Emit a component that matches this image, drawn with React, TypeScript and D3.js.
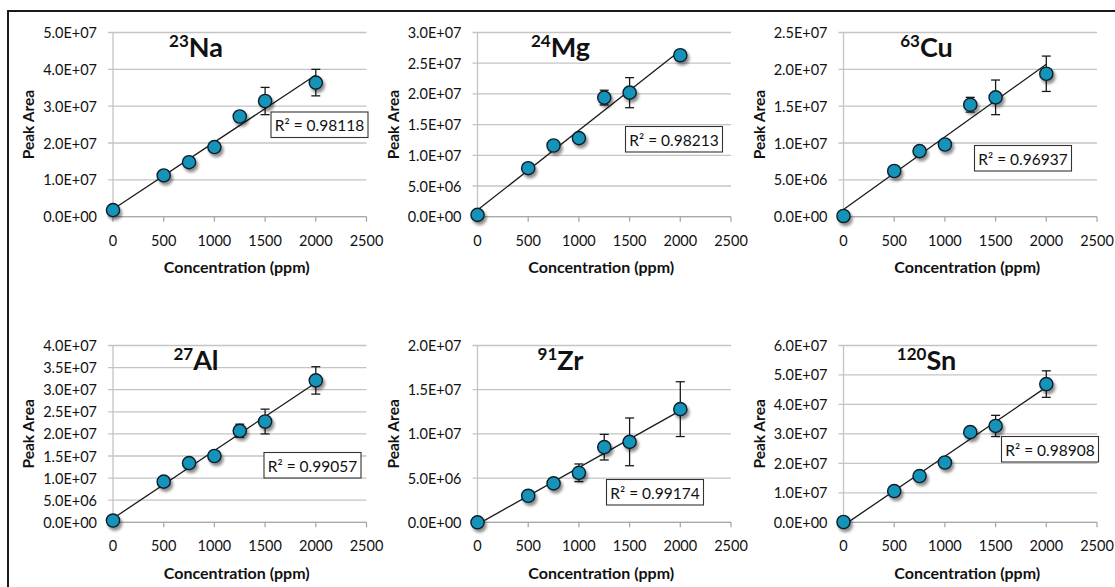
import * as d3 from 'd3';
import React, { useRef, useEffect } from 'react';

// concentrations (ppm) shared by every panel
const concentration = [0, 500, 750, 1000, 1250, 1500, 2000];
const xTicks = [0, 500, 1000, 1500, 2000, 2500];

// peak areas and their error bars
const na23 = [1.8e6, 1.12e7, 1.48e7, 1.89e7, 2.72e7, 3.14e7, 3.64e7];
const na23Err = [5e5, 6e5, 6e5, 8e5, 1.0e6, 3.7e6, 3.6e6];
const mg24 = [3e5, 7.9e6, 1.16e7, 1.28e7, 1.94e7, 2.02e7, 2.63e7];
const mg24Err = [2e5, 5e5, 6e5, 5e5, 1.2e6, 2.45e6, 8e5];
const cu63 = [1e5, 6.2e6, 8.9e6, 9.8e6, 1.52e7, 1.62e7, 1.94e7];
const cu63Err = [1e5, 4e5, 5e5, 5e5, 1.0e6, 2.35e6, 2.4e6];
const al27 = [4e5, 9.2e6, 1.34e7, 1.5e7, 2.07e7, 2.28e7, 3.21e7];
const al27Err = [2e5, 5e5, 8e5, 7e5, 1.5e6, 2.8e6, 3.1e6];
const zr91 = [0, 3.0e6, 4.4e6, 5.6e6, 8.5e6, 9.1e6, 1.28e7];
const zr91Err = [0, 3e5, 5e5, 1.0e6, 1.45e6, 2.7e6, 3.1e6];
const sn120 = [1e5, 1.06e7, 1.57e7, 2.03e7, 3.06e7, 3.27e7, 4.69e7];
const sn120Err = [2e5, 1.0e6, 1.2e6, 1.5e6, 1.5e6, 3.6e6, 4.5e6];

const elements = ['Na', 'Mg', 'Cu', 'Al', 'Zr', 'Sn'];
const massNumbers = ['23', '24', '63', '27', '91', '120'];
const rSquared = ['0.98118', '0.98213', '0.96937', '0.99057', '0.99174', '0.98908'];
const yMax = [5e7, 3e7, 2.5e7, 4e7, 2e7, 6e7];
const yStep = [1e7, 5e6, 5e6, 5e6, 5e6, 1e7];

const series = [na23, mg24, cu63, al27, zr91, sn120];
const errors = [na23Err, mg24Err, cu63Err, al27Err, zr91Err, sn120Err];

// layout
const colLeft = [113, 477.5, 843.5];
const plotW = 253.5;
const rowTop = [32.5, 345.5];
const rowBottom = [216.7, 522.3];
// R² label box offset from the plot's top-left corner
const r2Box = [
  [158, 79.5],
  [148, 94],
  [131, 113],
  [151, 107],
  [129, 134],
  [158, 91],
];

const FONT = 'Lato, Carlito, "Open Sans", sans-serif';
const MARKER = '#1593b8';
const GRID = '#c4c4c4';
const INK = '#111';

const fmtSci = (v: number) => {
  if (v === 0) return '0.0E+00';
  const e = Math.floor(Math.log10(v) + 1e-9);
  const m = v / Math.pow(10, e);
  return `${m.toFixed(1)}E+${String(e).padStart(2, '0')}`;
};

function fit(xs: number[], ys: number[]) {
  const mx = d3.mean(xs)!;
  const my = d3.mean(ys)!;
  let sxy = 0, sxx = 0;
  xs.forEach((x, i) => {
    sxy += (x - mx) * (ys[i] - my);
    sxx += (x - mx) * (x - mx);
  });
  const slope = sxy / sxx;
  return { slope, intercept: my - slope * mx };
}

export default function App() {
  const ref = useRef<SVGSVGElement>(null);

  useEffect(() => {
    const svg = d3.select(ref.current);
    svg.selectAll('*').remove();

    const defs = svg.append('defs');
    const f = defs.append('filter').attr('id', 'shadow')
      .attr('x', '-50%').attr('y', '-50%').attr('width', '200%').attr('height', '200%');
    f.append('feGaussianBlur').attr('in', 'SourceAlpha').attr('stdDeviation', 1.6);
    f.append('feOffset').attr('dx', 2).attr('dy', 2.5).attr('result', 'off');
    f.append('feComponentTransfer').append('feFuncA').attr('type', 'linear').attr('slope', 0.45);
    const merge = f.append('feMerge');
    merge.append('feMergeNode');
    merge.append('feMergeNode').attr('in', 'SourceGraphic');

    // outer frame
    svg.append('rect')
      .attr('x', 8).attr('y', 11).attr('width', 1200).attr('height', 700)
      .attr('fill', 'none').attr('stroke', '#1a1a1a').attr('stroke-width', 2);

    elements.forEach((el, i) => {
      const left = colLeft[i % 3];
      const top = rowTop[Math.floor(i / 3)];
      const bottom = rowBottom[Math.floor(i / 3)];
      const data = series[i];
      const err = errors[i];

      const x = d3.scaleLinear().domain([0, 2500]).range([left, left + plotW]);
      const y = d3.scaleLinear().domain([0, yMax[i]]).range([bottom, top]);
      const yTicks = d3.range(0, yMax[i] + yStep[i] / 2, yStep[i]);

      const g = svg.append('g');

      // gridlines + y ticks
      g.selectAll('line.grid').data(yTicks).enter().append('line')
        .attr('x1', left - 5).attr('x2', left + plotW)
        .attr('y1', d => y(d)).attr('y2', d => y(d))
        .attr('stroke', GRID).attr('stroke-width', 1.3);

      // y axis line
      g.append('line')
        .attr('x1', left).attr('x2', left).attr('y1', top).attr('y2', bottom)
        .attr('stroke', GRID).attr('stroke-width', 1.3);
      // x axis line and ticks
      g.append('line')
        .attr('x1', left).attr('x2', left + plotW).attr('y1', bottom).attr('y2', bottom)
        .attr('stroke', '#a9a9a9').attr('stroke-width', 1.3);
      g.selectAll('line.xt').data(xTicks).enter().append('line')
        .attr('x1', d => x(d)).attr('x2', d => x(d))
        .attr('y1', bottom).attr('y2', bottom + 5)
        .attr('stroke', '#a9a9a9').attr('stroke-width', 1.3);

      // tick labels
      g.selectAll('text.yl').data(yTicks).enter().append('text')
        .attr('x', left - 16).attr('y', d => y(d))
        .attr('text-anchor', 'end').attr('dominant-baseline', 'central')
        .attr('font-family', FONT).attr('font-size', 14.5).attr('fill', INK)
        .text(d => fmtSci(d));
      g.selectAll('text.xl').data(xTicks).enter().append('text')
        .attr('x', d => x(d)).attr('y', bottom + 23.5)
        .attr('text-anchor', 'middle').attr('dominant-baseline', 'central')
        .attr('font-family', FONT).attr('font-size', 14.5).attr('fill', INK)
        .text(d => d);

      // axis titles
      g.append('text')
        .attr('x', left + plotW / 2 - 3).attr('y', bottom + 49.7)
        .attr('text-anchor', 'middle').attr('dominant-baseline', 'central')
        .attr('font-family', FONT).attr('font-size', 16).attr('font-weight', 'bold')
        .attr('fill', INK)
        .text('Concentration (ppm)');
      g.append('text')
        .attr('transform', `translate(${left - 85},${(top + bottom) / 2}) rotate(-90)`)
        .attr('text-anchor', 'middle').attr('dominant-baseline', 'central')
        .attr('font-family', FONT).attr('font-size', 15.5).attr('font-weight', 'bold')
        .attr('fill', INK)
        .text('Peak Area');

      // isotope title
      const t = g.append('text')
        .attr('x', left + 83).attr('y', top + 24.5)
        .attr('text-anchor', 'middle')
        .attr('font-family', FONT).attr('font-weight', 'bold').attr('fill', INK);
      t.append('tspan').attr('font-size', 17).attr('dy', -10).text(massNumbers[i]);
      t.append('tspan').attr('font-size', 27).attr('dy', 10).text(el);

      // linear trendline over the data range
      const { slope, intercept } = fit(concentration, data);
      const x0 = d3.min(concentration)!;
      const x1 = d3.max(concentration)!;
      g.append('line')
        .attr('x1', x(x0)).attr('y1', y(intercept + slope * x0))
        .attr('x2', x(x1)).attr('y2', y(intercept + slope * x1))
        .attr('stroke', '#1a1a1a').attr('stroke-width', 1.3);

      // error bars
      const eb = g.selectAll('g.eb').data(concentration).enter().append('g')
        .attr('stroke', '#1a1a1a').attr('stroke-width', 1.3);
      eb.append('line')
        .attr('x1', d => x(d)).attr('x2', d => x(d))
        .attr('y1', (d, j) => y(data[j] + err[j])).attr('y2', (d, j) => y(data[j] - err[j]));
      eb.append('line')
        .attr('x1', d => x(d) - 4.5).attr('x2', d => x(d) + 4.5)
        .attr('y1', (d, j) => y(data[j] + err[j])).attr('y2', (d, j) => y(data[j] + err[j]));
      eb.append('line')
        .attr('x1', d => x(d) - 4.5).attr('x2', d => x(d) + 4.5)
        .attr('y1', (d, j) => y(data[j] - err[j])).attr('y2', (d, j) => y(data[j] - err[j]));

      // markers
      g.selectAll('circle').data(concentration).enter().append('circle')
        .attr('cx', d => x(d)).attr('cy', (d, j) => y(data[j]))
        .attr('r', 6.6)
        .attr('fill', MARKER).attr('stroke', '#0d1f2a').attr('stroke-width', 1.4)
        .attr('filter', 'url(#shadow)');

      // R² label
      const [bx, by] = r2Box[i];
      g.append('rect')
        .attr('x', left + bx).attr('y', top + by).attr('width', 97).attr('height', 25.5)
        .attr('fill', '#fff').attr('stroke', '#333').attr('stroke-width', 1.1);
      g.append('text')
        .attr('x', left + bx + 48.5).attr('y', top + by + 13.2)
        .attr('text-anchor', 'middle').attr('dominant-baseline', 'central')
        .attr('font-family', FONT).attr('font-size', 15.5).attr('fill', INK)
        .text(`R² = ${rSquared[i]}`);
    });
  }, []);

  return (
    <svg
      ref={ref}
      width={1115}
      height={587}
      style={{ position: 'absolute', left: 0, top: 0, background: '#fff' }}
    />
  );
}
